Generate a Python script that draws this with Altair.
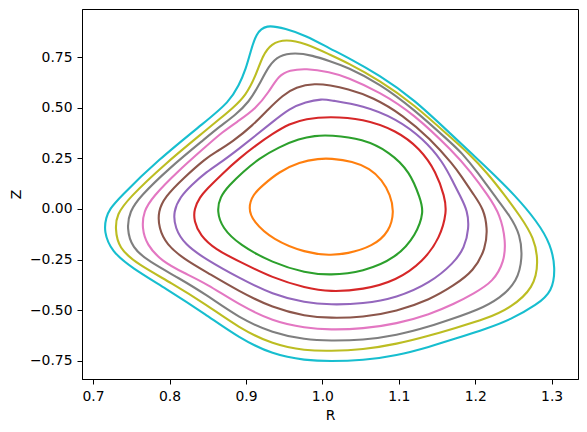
import altair as alt
import pandas as pd

# Flux-surface contours (R, Z), listed clockwise starting from the top
c1_R = [1.010, 1.040, 1.062, 1.078, 1.089, 1.094, 1.088, 1.066, 1.032, 1.010, 0.978, 0.935, 0.909, 0.903, 0.909, 0.922, 0.943, 0.970, 0.996]
c1_Z = [0.250, 0.236, 0.200, 0.145, 0.070, -0.012, -0.111, -0.185, -0.222, -0.229, -0.217, -0.152, -0.061, 0.005, 0.071, 0.117, 0.183, 0.232, 0.249]

c2_R = [1.010, 1.053, 1.088, 1.115, 1.128, 1.133, 1.123, 1.097, 1.053, 1.010, 0.978, 0.935, 0.891, 0.869, 0.862, 0.866, 0.878, 0.896, 0.917, 0.943, 0.970, 0.990]
c2_Z = [0.365, 0.347, 0.282, 0.183, 0.051, -0.012, -0.127, -0.242, -0.311, -0.328, -0.316, -0.267, -0.176, -0.094, -0.012, 0.060, 0.117, 0.183, 0.249, 0.306, 0.347, 0.362]

c3_R = [1.009, 1.053, 1.097, 1.128, 1.149, 1.160, 1.163, 1.154, 1.132, 1.097, 1.053, 1.010, 0.978, 0.935, 0.891, 0.860, 0.840, 0.832, 0.832, 0.840, 0.848, 0.869, 0.891, 0.913, 0.935, 0.957, 0.978]
c3_Z = [0.457, 0.446, 0.388, 0.298, 0.183, 0.060, -0.012, -0.143, -0.259, -0.354, -0.399, -0.410, -0.390, -0.341, -0.259, -0.200, -0.130, -0.060, 0.000, 0.060, 0.095, 0.174, 0.249, 0.314, 0.372, 0.421, 0.446]

c4_R = [1.000, 1.010, 1.053, 1.097, 1.132, 1.158, 1.172, 1.181, 1.190, 1.192, 1.186, 1.172, 1.141, 1.097, 1.053, 1.010, 0.978, 0.935, 0.891, 0.848, 0.820, 0.807, 0.805, 0.814, 0.829, 0.848, 0.869, 0.891, 0.913, 0.935, 0.957, 0.978]
c4_Z = [0.544, 0.537, 0.512, 0.446, 0.347, 0.232, 0.125, 0.060, -0.010, -0.094, -0.193, -0.267, -0.366, -0.440, -0.469, -0.473, -0.464, -0.423, -0.341, -0.250, -0.176, -0.094, -0.012, 0.060, 0.119, 0.183, 0.235, 0.298, 0.364, 0.430, 0.496, 0.529]

c5_R = [0.991, 1.010, 1.032, 1.066, 1.106, 1.141, 1.172, 1.181, 1.198, 1.211, 1.216, 1.214, 1.198, 1.172, 1.141, 1.097, 1.053, 1.010, 0.978, 0.935, 0.891, 0.848, 0.820, 0.796, 0.786, 0.785, 0.794, 0.818, 0.848, 0.861, 0.882, 0.909, 0.930, 0.948, 0.965]
c5_Z = [0.621, 0.611, 0.594, 0.553, 0.462, 0.347, 0.215, 0.166, 0.071, 0.000, -0.094, -0.193, -0.308, -0.378, -0.448, -0.506, -0.535, -0.539, -0.530, -0.489, -0.407, -0.311, -0.250, -0.176, -0.094, -0.012, 0.060, 0.152, 0.252, 0.282, 0.331, 0.413, 0.496, 0.561, 0.603]

c6_R = [0.978, 1.010, 1.032, 1.075, 1.119, 1.172, 1.194, 1.216, 1.233, 1.240, 1.238, 1.224, 1.198, 1.172, 1.141, 1.097, 1.053, 1.010, 0.978, 0.935, 0.891, 0.848, 0.820, 0.790, 0.770, 0.764, 0.766, 0.778, 0.809, 0.848, 0.869, 0.891, 0.913, 0.930, 0.943, 0.957]
c6_Z = [0.695, 0.677, 0.652, 0.578, 0.472, 0.280, 0.183, 0.071, -0.028, -0.160, -0.259, -0.358, -0.418, -0.470, -0.520, -0.568, -0.592, -0.597, -0.588, -0.555, -0.473, -0.368, -0.318, -0.259, -0.176, -0.094, -0.012, 0.060, 0.180, 0.310, 0.380, 0.437, 0.496, 0.578, 0.660, 0.685]

c7_R = [0.964, 0.987, 1.010, 1.032, 1.075, 1.119, 1.172, 1.181, 1.203, 1.224, 1.246, 1.259, 1.262, 1.255, 1.233, 1.203, 1.172, 1.141, 1.097, 1.053, 1.010, 0.978, 0.935, 0.891, 0.848, 0.812, 0.773, 0.751, 0.744, 0.748, 0.761, 0.799, 0.848, 0.865, 0.887, 0.904, 0.917, 0.930, 0.943]
c7_Z = [0.773, 0.759, 0.730, 0.702, 0.619, 0.496, 0.314, 0.282, 0.183, 0.071, -0.036, -0.127, -0.242, -0.358, -0.440, -0.500, -0.540, -0.580, -0.625, -0.648, -0.651, -0.646, -0.613, -0.539, -0.423, -0.341, -0.259, -0.193, -0.094, -0.012, 0.060, 0.200, 0.352, 0.405, 0.467, 0.529, 0.611, 0.709, 0.759]

c8_R = [0.952, 0.978, 1.010, 1.032, 1.075, 1.119, 1.172, 1.190, 1.216, 1.238, 1.259, 1.277, 1.283, 1.277, 1.246, 1.216, 1.172, 1.141, 1.097, 1.053, 1.010, 0.978, 0.935, 0.891, 0.848, 0.803, 0.759, 0.733, 0.729, 0.731, 0.746, 0.793, 0.848, 0.865, 0.882, 0.900, 0.913, 0.922, 0.933]
c8_Z = [0.840, 0.818, 0.762, 0.724, 0.635, 0.520, 0.339, 0.280, 0.177, 0.071, -0.036, -0.143, -0.259, -0.390, -0.489, -0.540, -0.590, -0.625, -0.668, -0.695, -0.702, -0.700, -0.670, -0.588, -0.472, -0.366, -0.275, -0.193, -0.094, -0.028, 0.051, 0.220, 0.390, 0.443, 0.496, 0.561, 0.660, 0.759, 0.817]

c9_R = [0.926, 0.952, 0.978, 1.010, 1.032, 1.075, 1.119, 1.172, 1.198, 1.224, 1.251, 1.281, 1.299, 1.305, 1.301, 1.281, 1.246, 1.216, 1.172, 1.141, 1.097, 1.053, 1.010, 0.978, 0.935, 0.891, 0.848, 0.794, 0.751, 0.724, 0.714, 0.717, 0.722, 0.733, 0.785, 0.848, 0.878, 0.891, 0.900, 0.906, 0.913]
c9_Z = [0.912, 0.891, 0.858, 0.792, 0.751, 0.660, 0.545, 0.356, 0.265, 0.172, 0.071, -0.061, -0.176, -0.292, -0.407, -0.473, -0.547, -0.590, -0.643, -0.680, -0.725, -0.748, -0.753, -0.748, -0.720, -0.637, -0.522, -0.390, -0.292, -0.209, -0.111, -0.040, 0.000, 0.051, 0.243, 0.434, 0.529, 0.611, 0.693, 0.776, 0.866]

contours = [
    ("1", c1_R, c1_Z), ("2", c2_R, c2_Z), ("3", c3_R, c3_Z),
    ("4", c4_R, c4_Z), ("5", c5_R, c5_Z), ("6", c6_R, c6_Z),
    ("7", c7_R, c7_Z), ("8", c8_R, c8_Z), ("9", c9_R, c9_Z),
]
levels = [c[0] for c in contours]
colors = ["#ff7f0e", "#2ca02c", "#d62728", "#9467bd", "#8c564b",
          "#e377c2", "#7f7f7f", "#bcbd22", "#17becf"]
x_ticks = [0.7, 0.8, 0.9, 1.0, 1.1, 1.2, 1.3]
y_ticks = [-0.75, -0.5, -0.25, 0.0, 0.25, 0.5, 0.75]

rows = []
for lev, rr, zz in contours:
    for i, (r, z) in enumerate(zip(rr, zz)):
        rows.append({"level": lev, "i": i, "R": r, "Z": z})
df = pd.DataFrame(rows)

FONT = "DejaVu Sans"
FS = 13.9

chart = alt.Chart(df).mark_line(
    interpolate="basis-closed", strokeWidth=2.1
).encode(
    x=alt.X("R:Q", scale=alt.Scale(domain=[0.6855, 1.3345], nice=False, zero=False),
            axis=alt.Axis(values=x_ticks, format=".1f", title="R",
                          titleX=248, titleY=36, titleBaseline="middle", titleAlign="center")),
    y=alt.Y("Z:Q", scale=alt.Scale(domain=[-0.840, 0.988], nice=False, zero=False),
            axis=alt.Axis(values=y_ticks, format=".2f", title="Z",
                          titleX=-66, titleY=185, titleAngle=-90,
                          titleBaseline="middle", titleAlign="center")),
    color=alt.Color("level:N", scale=alt.Scale(domain=levels, range=colors), legend=None),
    detail="level:N",
    order=alt.Order("i:Q"),
).properties(
    width=496, height=370,
    padding={"left": 74, "top": 1, "right": 1, "bottom": 45},
    autosize="none",
).configure_view(
    stroke="black", strokeWidth=1
).configure_axis(
    grid=False, domainColor="black", domainWidth=1, tickColor="black", tickSize=5,
    tickWidth=1, labelColor="black", labelFont=FONT, labelFontSize=FS, labelPadding=5,
    titleColor="black", titleFont=FONT, titleFontSize=FS, titleFontWeight="normal",
    labelFlush=False, labelOverlap=False
)

chart.save("out.html", embed_options={"renderer": "svg", "actions": False})
